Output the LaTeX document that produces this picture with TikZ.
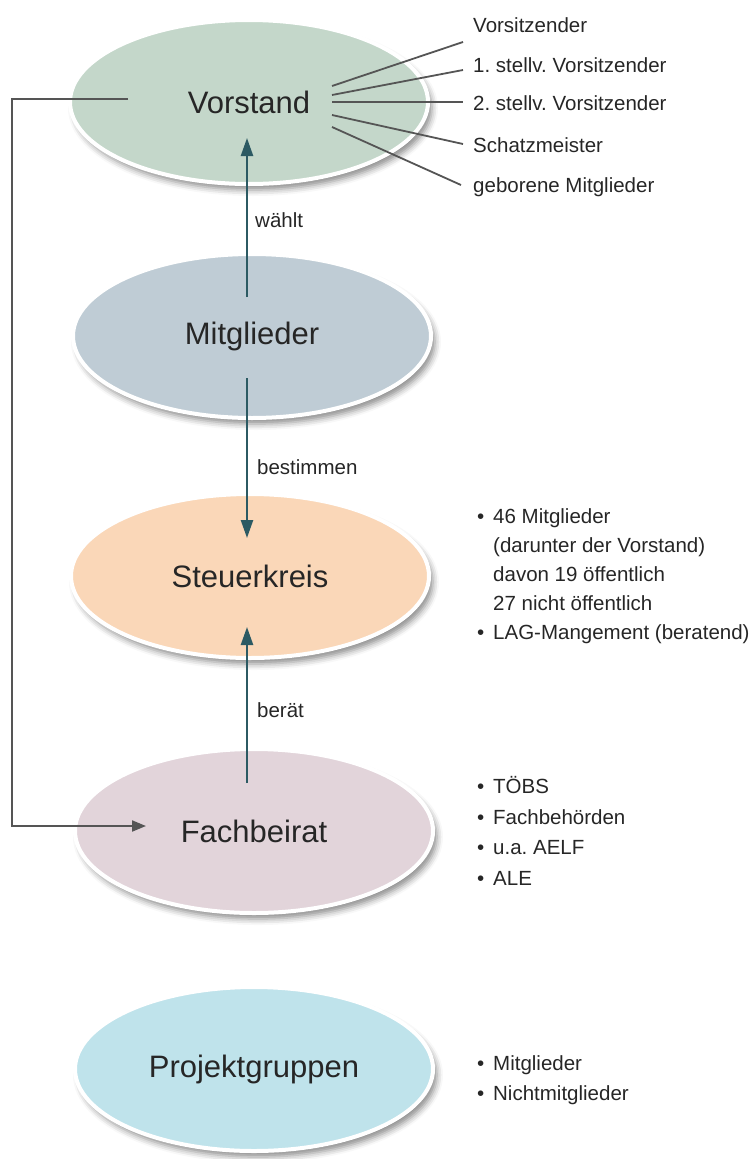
\documentclass[tikz,border=0pt]{standalone}
\usepackage{fontspec}
\setmainfont{Liberation Sans}
\usetikzlibrary{shapes.geometric,arrows.meta,shadows.blur}
\definecolor{cvor}{HTML}{C4D7CA}
\definecolor{cmit}{HTML}{BFCCD5}
\definecolor{cst}{HTML}{FAD7B8}
\definecolor{cfb}{HTML}{E2D4DA}
\definecolor{cpg}{HTML}{BFE3EB}
\definecolor{cteal}{HTML}{2C5A63}
\definecolor{cgrayline}{HTML}{555555}
\definecolor{ctext}{HTML}{262626}
\frenchspacing
\newcommand\mybul{\makebox[16pt][l]{\textbullet}}
\newcommand\myind{\hspace*{16pt}}
\begin{document}
\begin{tikzpicture}[x=1pt,y=-1pt,
  ell/.style={ellipse, draw=white, line width=4pt, minimum width=358pt, minimum height=164pt,
    inner sep=0pt, text=ctext, font={\fontsize{31}{36}\selectfont},
    blur shadow={shadow xshift=4pt, shadow yshift=-6pt, shadow blur radius=6pt, shadow opacity=45}},
  small/.style={text=ctext, font={\fontsize{20.5}{25}\selectfont}, inner sep=0pt},
  lab/.style={small, anchor=west},
  listA/.style={small, anchor=west, align=left, font={\fontsize{20.5}{29}\selectfont}},
  listB/.style={small, anchor=west, align=left, font={\fontsize{20.5}{30.5}\selectfont}},
  tealarrow/.style={draw=cteal, line width=2.4pt, -{Triangle[width=12pt,length=18pt]}},
  grayconn/.style={draw=cgrayline, line width=2pt},
  thinline/.style={draw=cgrayline, line width=1.8pt}
]
\useasboundingbox (0,0) rectangle (749,1159);

% ellipses
\node[ell, fill=cvor] (vor) at (249,102) {Vorstand};
\node[ell, fill=cmit] (mit) at (252,336) {Mitglieder};
\node[ell, fill=cst] (st) at (250,576) {Steuerkreis};
\node[ell, fill=cfb] (fb) at (254,831) {Fachbeirat};
\node[ell, fill=cpg] (pg) at (254,1069) {Projektgruppen};

% coordinates for arrows
\coordinate (mitT) at (247,297);
\coordinate (vorIn) at (247,138);
\coordinate (mitB) at (247,378);
\coordinate (stIn) at (247,538);
\coordinate (fbT) at (247,783);
\coordinate (stOut) at (247,627);

\draw[tealarrow] (mitT) -- (vorIn);
\draw[tealarrow] (mitB) -- (stIn);
\draw[tealarrow] (fbT) -- (stOut);

\node[lab] (l1) at (255,220) {wählt};
\node[lab] (l2) at (257,467) {bestimmen};
\node[lab] (l3) at (257,710) {berät};

% left connector
\coordinate (vorL) at (128,99);
\coordinate (cornerTop) at (12,99);
\coordinate (fbIn) at (146,826);
\draw[grayconn, -{Triangle[width=11pt,length=14pt]}] (vorL) -- (cornerTop) |- (fbIn);

% Vorstand members
\node[lab] (m1) at (473,25) {Vorsitzender};
\node[lab] (m2) at (473,65) {1. stellv. Vorsitzender};
\node[lab] (m3) at (473,103) {2. stellv. Vorsitzender};
\node[lab] (m4) at (473,145) {Schatzmeister};
\node[lab] (m5) at (473,187) {geborene Mitglieder};

\coordinate (s1) at (332,86);  \coordinate (e1) at (463,42);
\coordinate (s2) at (332,95);  \coordinate (e2) at (463,70);
\coordinate (s3) at (332,102); \coordinate (e3) at (463,102);
\coordinate (s4) at (332,115); \coordinate (e4) at (463,144);
\coordinate (s5) at (332,127); \coordinate (e5) at (461,185);
\draw[thinline] (s1) -- (e1);
\draw[thinline] (s2) -- (e2);
\draw[thinline] (s3) -- (e3);
\draw[thinline] (s4) -- (e4);
\draw[thinline] (s5) -- (e5);

% lists
\node[listA] (stl) at (477,576) {\mybul 46 Mitglieder\\\myind (darunter der Vorstand)\\\myind davon 19 öffentlich\\\myind 27 nicht öffentlich\\\mybul LAG-Mangement (beratend)};
\node[listB] (fbl) at (477,831) {\mybul TÖBS\\\mybul Fachbehörden\\\mybul u.a. AELF\\\mybul ALE};
\node[listB] (pgl) at (477,1080) {\mybul Mitglieder\\\mybul Nichtmitglieder};
\end{tikzpicture}
\end{document}
